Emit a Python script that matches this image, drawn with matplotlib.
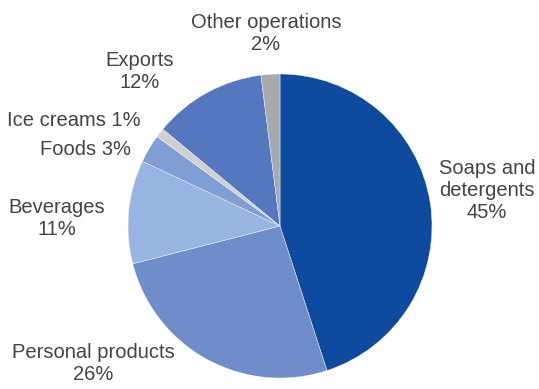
import matplotlib.pyplot as plt

# Share of sales by segment
segments = ['Soaps and\ndetergents', 'Personal products', 'Beverages', 'Foods',
            'Ice creams', 'Exports', 'Other operations']
shares = [45, 26, 11, 3, 1, 12, 2]
colors = ['#0E4A9E', '#6E8DC9', '#98B4E0', '#7F9ED3', '#D0D0D0', '#5577C0', '#A7A9AC']

plt.rcParams['font.family'] = ['Liberation Sans', 'DejaVu Sans']

fig = plt.figure(figsize=(5.39, 3.89), dpi=100)
ax = fig.add_axes([0, 0, 1, 1])

# pixel layout: centre (280, 226), radius 152
cx, cy, r = 280, 226, 152
def to_data(px, py):
    return (px - cx) / r, (cy - py) / r

ax.pie(shares, colors=colors, startangle=90, counterclock=False, radius=1,
       wedgeprops=dict(linewidth=0.3, edgecolor='#f4f6fa'))

ax.set_xlim(-cx / r, (539 - cx) / r)
ax.set_ylim(-(389 - cy) / r, cy / r)
ax.set_aspect('equal')
ax.axis('off')

# label text and pixel anchor positions
labels = ['Soaps and\ndetergents\n45%', 'Personal products\n26%', 'Beverages\n11%',
          'Foods 3%', 'Ice creams 1%', 'Exports\n12%', 'Other operations\n2%']
label_pos = [(487, 191), (93, 364), (57, 219), (86, 150), (74, 120), (140, 72), (266, 33)]

for txt, (px, py) in zip(labels, label_pos):
    x, y = to_data(px, py)
    ax.text(x, y, txt, ha='center', va='center', fontsize=14.5, color='#444444',
            linespacing=1.2)

fig.savefig('out.png', dpi=100)
